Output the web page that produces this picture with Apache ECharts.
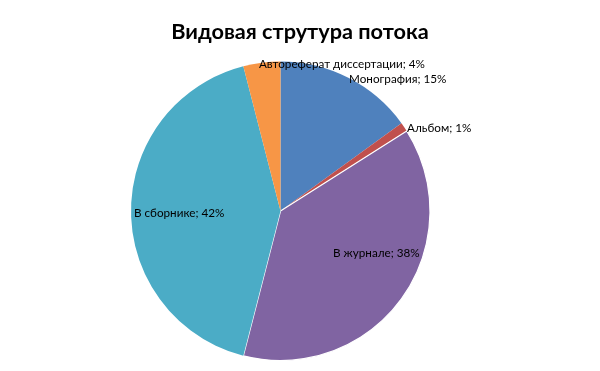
<!DOCTYPE html>
<html><head><meta charset="utf-8">
<script src="https://cdn.jsdelivr.net/npm/echarts@6/dist/echarts.min.js"></script>
<style>html,body{margin:0;padding:0;background:#fff}#c{width:600px;height:371px}</style>
</head><body><div id="c"></div>
<script>
const categories = ['Монография', 'Альбом', 'В журнале', 'В сборнике', 'Автореферат диссертации'];
const values = [15, 1, 38, 42, 4];
const colors = ['#4F81BD', '#C0504D', '#8064A2', '#4BACC6', '#F79646'];
// label anchor positions (left edge x, middle y) in px
const labelPos = [[349, 79], [407, 128], [333, 253], [134, 213], [259, 64]];

const chart = echarts.init(document.getElementById('c'));
chart.setOption({
  animation: false,
  title: {
    text: 'Видовая струтура потока',
    left: 'center', top: 16,
    textStyle: { fontFamily: 'Lato', fontWeight: 'bold', fontSize: 21.7, color: '#000' }
  },
  series: [{
    type: 'pie',
    center: [280.5, 211],
    radius: 149.5,
    startAngle: 90,
    clockwise: true,
    data: categories.map((n, i) => ({
      name: n, value: values[i],
      itemStyle: { color: colors[i], borderColor: '#fff', borderWidth: i === 2 ? 1.2 : 0 }
    })),
    label: {
      show: true,
      position: 'inside',
      formatter: p => p.name + '; ' + p.value + '%',
      fontFamily: 'Lato', fontSize: 11.7, color: '#000'
    },
    labelLine: { show: false },
    labelLayout: p => ({
      x: labelPos[p.dataIndex][0], y: labelPos[p.dataIndex][1],
      align: 'left', verticalAlign: 'middle'
    }),
    emphasis: { disabled: true }
  }]
});
</script></body></html>
